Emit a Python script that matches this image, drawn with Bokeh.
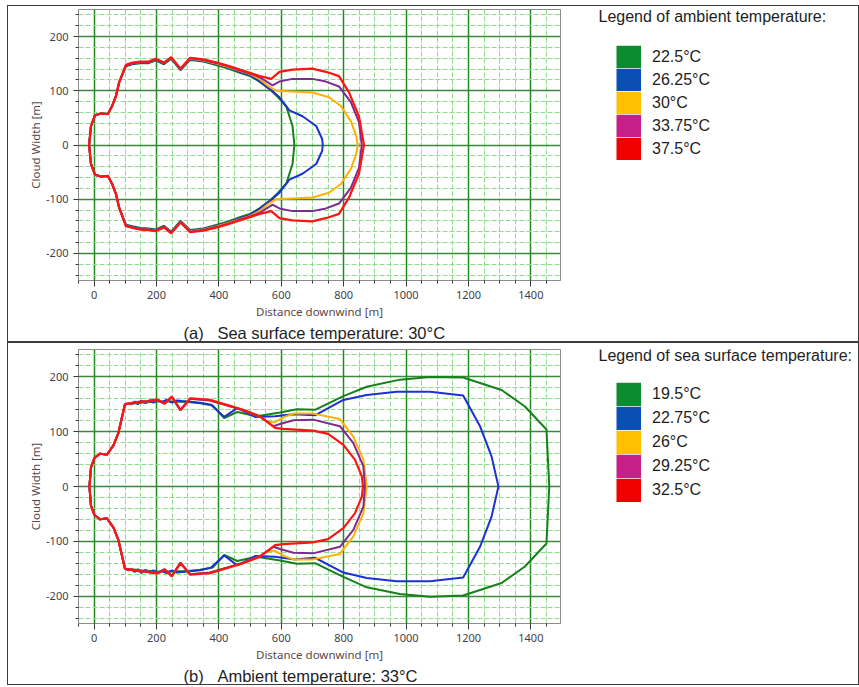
from bokeh.plotting import figure
from bokeh.models import (Range1d, SingleIntervalTicker, Legend, LegendItem, Label, Title,
                          PrintfTickFormatter)
from bokeh.layouts import column, row
from bokeh.embed import file_html
from bokeh.resources import INLINE

# ---------------- data ----------------
X_MIN, X_MAX = -50, 1495
Y_MIN, Y_MAX = -250, 250

A_LABELS = ["22.5°C", "26.25°C", "30°C", "33.75°C", "37.5°C"]
B_LABELS = ["19.5°C", "22.75°C", "26°C", "29.25°C", "32.5°C"]
A_LEGEND_TITLE = "Legend of ambient temperature:"
B_LEGEND_TITLE = "Legend of sea surface temperature:"
A_CAPTION = "(a)\u00a0\u00a0\u00a0Sea surface temperature: 30°C"
B_CAPTION = "(b)\u00a0\u00a0\u00a0Ambient temperature: 33°C"
X_LABEL = "Distance downwind [m]"
Y_LABEL = "Cloud Width [m]"

# Panel (a): sea surface temperature 30°C, series = ambient temperature
A_grn_x = [-16, -10, 3, 22, 44, 57, 70, 80, 102, 123, 149, 175, 197, 224, 247, 277, 308, 350, 394, 430, 467, 500, 530, 560, 590, 616, 636, 642]
A_grn_up = [0, 35, 55, 58, 57, 71, 90, 115, 145, 149, 151, 151, 156, 149, 159, 138, 157, 154, 147, 141, 133, 127, 117, 104, 88, 71, 35, 0]
A_grn_lo = [0, -35, -55, -58, -57, -71, -90, -115, -147, -150, -153, -154, -156, -149, -160, -140, -157, -154, -147, -141, -133, -127, -117, -104, -88, -71, -35, 0]

A_blu_x = [-16, -10, 3, 22, 44, 57, 70, 80, 102, 123, 149, 175, 197, 224, 247, 277, 308, 350, 394, 430, 467, 500, 530, 560, 594, 626, 668, 712, 731, 733]
A_blu_up = [0, 35, 55, 58, 57, 71, 90, 115, 146, 150, 152, 152, 157, 150, 160, 139, 158, 155, 149, 143, 135, 129, 118, 105, 88, 64, 53, 35, 11, 0]
A_blu_lo = [0, -35, -55, -58, -57, -71, -90, -115, -148, -151, -154, -155, -157, -150, -161, -141, -158, -155, -149, -143, -135, -129, -118, -105, -88, -64, -53, -35, -11, 0]

A_ora_x = [-16, -10, 3, 22, 44, 57, 70, 80, 102, 123, 149, 175, 197, 224, 247, 277, 308, 350, 394, 430, 467, 500, 530, 560, 584, 620, 700, 753, 791, 823, 840, 845]
A_ora_up = [0, 35, 55, 58, 57, 71, 90, 115, 147, 151, 153, 153, 158, 151, 161, 140, 159, 156, 150, 144, 137, 131, 122, 108, 100, 99, 97, 88, 72, 44, 17, 0]
A_ora_lo = [0, -35, -55, -58, -57, -71, -90, -115, -149, -152, -155, -156, -158, -151, -162, -142, -159, -156, -150, -144, -137, -131, -122, -108, -100, -99, -97, -88, -72, -44, -17, 0]

A_pur_x = [-16, -10, 3, 22, 44, 57, 70, 80, 102, 123, 149, 175, 197, 224, 247, 277, 308, 350, 394, 430, 467, 500, 531, 572, 594, 636, 700, 743, 785, 823, 849, 858]
A_pur_up = [0, 35, 55, 58, 57, 71, 90, 115, 147, 151, 153, 153, 158, 151, 161, 140, 160, 157, 151, 145, 138, 132, 125, 110, 117, 122, 122, 117, 108, 79, 42, 0]
A_pur_lo = [0, -35, -55, -58, -57, -71, -90, -115, -149, -152, -155, -156, -158, -151, -162, -142, -160, -157, -151, -145, -138, -132, -125, -110, -117, -122, -122, -117, -108, -79, -42, 0]

A_red_x = [-16, -10, 3, 22, 44, 57, 70, 80, 102, 123, 149, 175, 197, 224, 247, 277, 308, 350, 394, 430, 467, 500, 531, 568, 594, 636, 699, 743, 785, 817, 849, 865]
A_red_up = [0, 35, 55, 58, 57, 71, 90, 115, 148, 152, 154, 154, 159, 152, 162, 141, 161, 158, 152, 146, 139, 133, 127, 122, 135, 139, 141, 135, 127, 97, 53, 0]
A_red_lo = [0, -35, -55, -58, -57, -71, -90, -115, -150, -153, -156, -157, -159, -152, -163, -143, -161, -158, -152, -146, -139, -133, -127, -122, -135, -139, -141, -135, -127, -97, -53, 0]

# Panel (b): ambient temperature 33°C, series = sea surface temperature
B_grn_x = [-15, -10, 1, 19, 41, 62, 78, 99, 150, 200, 250, 300, 340, 380, 417, 459, 521, 596, 650, 708, 799, 874, 980, 1077, 1183, 1306, 1381, 1450, 1459]
B_grn_up = [0, 35, 52, 60, 58, 75, 98, 150, 153, 155, 155, 154, 152, 148, 125, 136, 128, 135, 141, 140, 165, 182, 195, 200, 199, 176, 146, 104, 0]
B_grn_lo = [0, -35, -52, -60, -58, -75, -98, -150, -153, -155, -155, -154, -152, -148, -125, -136, -128, -135, -141, -140, -165, -184, -196, -201, -199, -176, -146, -104, 0]

B_blu_x = [-15, -10, 1, 19, 41, 62, 78, 99, 110, 120, 130, 140, 152, 165, 178, 190, 205, 218, 232, 250, 265, 282, 300, 340, 375, 417, 459, 516, 580, 640, 708, 799, 874, 970, 1077, 1183, 1237, 1274, 1296]
B_blu_up = [0, 35, 52, 60, 58, 75, 98, 150, 152, 150, 155, 150, 157, 152, 157, 153, 158, 154, 158, 153, 157, 156, 155, 153, 149, 127, 143, 127, 128, 132, 130, 158, 167, 173, 173, 166, 110, 55, 0]
B_blu_lo = [0, -35, -52, -60, -58, -75, -98, -150, -153, -151, -156, -151, -158, -152, -157, -153, -158, -154, -158, -153, -157, -156, -155, -153, -148, -126, -144, -127, -128, -133, -130, -157, -167, -173, -173, -166, -110, -55, 0]

B_ora_x = [-15, -10, 1, 19, 41, 62, 78, 99, 126, 147, 169, 201, 226, 249, 277, 308, 372, 425, 478, 532, 553, 578, 610, 639, 702, 788, 831, 863, 874]
B_ora_up = [0, 35, 52, 60, 58, 75, 98, 150, 152, 154, 155, 158, 151, 163, 139, 160, 157, 148, 139, 127, 119, 117, 127, 133, 133, 123, 91, 49, 0]
B_ora_lo = [0, -35, -52, -60, -58, -75, -98, -150, -152, -154, -155, -158, -151, -163, -139, -160, -157, -148, -139, -127, -119, -117, -127, -133, -133, -123, -91, -49, 0]

B_pur_x = [-15, -10, 1, 19, 41, 62, 78, 99, 126, 147, 169, 201, 226, 249, 277, 308, 372, 425, 478, 532, 575, 596, 639, 702, 788, 831, 863, 868]
B_pur_up = [0, 35, 52, 60, 58, 75, 98, 150, 152, 154, 155, 158, 151, 163, 139, 160, 157, 148, 139, 127, 110, 114, 121, 122, 110, 79, 37, 0]
B_pur_lo = [0, -35, -52, -60, -58, -75, -98, -150, -152, -154, -155, -158, -151, -163, -139, -160, -157, -148, -139, -127, -110, -114, -121, -122, -110, -79, -37, 0]

B_red_x = [-15, -10, 1, 19, 41, 62, 78, 99, 126, 147, 169, 201, 226, 249, 277, 308, 372, 425, 478, 532, 580, 606, 702, 750, 799, 836, 858, 862]
B_red_up = [0, 35, 52, 60, 58, 75, 98, 150, 153, 155, 156, 159, 152, 164, 140, 161, 158, 149, 140, 128, 107, 105, 102, 96, 76, 49, 19, 0]
B_red_lo = [0, -35, -52, -60, -58, -75, -98, -150, -153, -155, -156, -159, -152, -164, -140, -161, -158, -149, -140, -128, -107, -105, -102, -96, -76, -49, -19, 0]

# ---------------- styling ----------------
LINE_COLORS = ["#17801c", "#1f2fd6", "#ffb000", "#7f2a8e", "#ff1414"]
SWATCH_COLORS = ["#0b8c2e", "#0a50b4", "#ffc000", "#c61f88", "#f00000"]
TEXT_FONT = "Liberation Sans"
AXIS_FONT = "Noto Sans"
PLOT_W = 560
LEG_W = 290


def make_plot(xs, ups, los, caption, height, top, bottom):
    p = figure(width=PLOT_W, height=height,
               x_range=Range1d(X_MIN, X_MAX), y_range=Range1d(Y_MIN, Y_MAX),
               output_backend="svg", toolbar_location=None,
               min_border_left=70, min_border_right=8,
               min_border_top=top, min_border_bottom=bottom,
               x_axis_label=X_LABEL, y_axis_label=Y_LABEL)
    p.background_fill_color = "white"
    p.border_fill_color = "white"
    p.outline_line_color = "#8c8c8c"
    p.outline_line_width = 1

    p.xaxis.ticker = SingleIntervalTicker(interval=200, num_minor_ticks=4)
    p.yaxis.ticker = SingleIntervalTicker(interval=100, num_minor_ticks=5)
    p.xaxis.formatter = PrintfTickFormatter(format="%d")
    p.yaxis.formatter = PrintfTickFormatter(format="%d")

    for ax in (p.xaxis[0], p.yaxis[0]):
        ax.axis_line_color = "#8c8c8c"
        ax.major_tick_line_color = "#3a3a3a"
        ax.minor_tick_line_color = "#3a3a3a"
        ax.major_tick_in = 0
        ax.minor_tick_in = 0
        ax.major_label_text_font = AXIS_FONT
        ax.major_label_text_font_size = "11px"
        ax.major_label_text_color = "#3f3f4c"
        ax.axis_label_text_font = AXIS_FONT
        ax.axis_label_text_font_size = "11.5px"
        ax.axis_label_text_font_style = "normal"
        ax.axis_label_text_color = "#5a4848"
    p.xaxis.major_tick_out = 6
    p.xaxis.minor_tick_out = 3
    p.xaxis.major_label_standoff = 4
    p.xaxis.axis_label_standoff = 2
    p.yaxis.major_tick_out = 5
    p.yaxis.minor_tick_out = 3
    p.yaxis.major_label_standoff = 5
    p.yaxis.axis_label_standoff = 0

    p.xgrid.grid_line_color = "#1e8a1e"
    p.xgrid.grid_line_width = 1.5
    p.ygrid.grid_line_color = "#3a883a"
    p.ygrid.grid_line_width = 1.5
    for g in (p.xgrid[0], p.ygrid[0]):
        g.minor_grid_line_color = "#8fdc8f"
        g.minor_grid_line_width = 1
        g.minor_grid_line_dash = "5 2"

    for i in range(5):
        cx = xs[i] + xs[i][::-1]
        cy = ups[i] + los[i][::-1]
        p.line(cx, cy, line_color=LINE_COLORS[i], line_width=2.2 if i == 4 else 2)

    p.add_layout(Title(text=caption, align="left", offset=105, standoff=0,
                       text_font=TEXT_FONT, text_font_size="16.5px",
                       text_font_style="normal", text_color="#1e1e1e"), "below")
    return p


def make_legend(xs, ups, los, labels, legend_title, height, title_y, legend_margin,
                leg_left, row_h):
    q = figure(width=LEG_W, height=height,
               x_range=Range1d(0, LEG_W - leg_left), y_range=Range1d(height, 0),
               output_backend="svg", toolbar_location=None,
               min_border_left=leg_left, min_border_right=0,
               min_border_top=0, min_border_bottom=0,
               x_axis_type=None, y_axis_type=None)
    q.grid.visible = False
    q.outline_line_color = None
    q.background_fill_color = "white"
    q.border_fill_color = "white"
    items = []
    for i in range(5):
        # hidden proxy renderer (the series itself); its wide line gives a block swatch
        cx = xs[i] + xs[i][::-1]
        cy = ups[i] + los[i][::-1]
        r = q.line(cx, cy, line_color=SWATCH_COLORS[i], line_width=row_h - 0.5,
                   line_cap="butt", visible=False)
        items.append(LegendItem(label=labels[i], renderers=[r]))
    legend = Legend(items=items, location="top_left",
                    glyph_width=25, glyph_height=row_h, spacing=0, padding=0,
                    margin=legend_margin,
                    label_standoff=11, label_text_font=TEXT_FONT,
                    label_text_font_size="16px", label_text_color="#1e1e1e",
                    border_line_color=None, background_fill_alpha=0)
    q.add_layout(legend, "center")
    q.add_layout(Label(x=30 - leg_left, y=title_y, text=legend_title, text_font=TEXT_FONT,
                       text_font_size="16px", text_color="#1e1e1e",
                       text_baseline="middle", text_align="left"))
    return q


A_xs = [A_grn_x, A_blu_x, A_ora_x, A_pur_x, A_red_x]
A_ups = [A_grn_up, A_blu_up, A_ora_up, A_pur_up, A_red_up]
A_los = [A_grn_lo, A_blu_lo, A_ora_lo, A_pur_lo, A_red_lo]
B_xs = [B_grn_x, B_blu_x, B_ora_x, B_pur_x, B_red_x]
B_ups = [B_grn_up, B_blu_up, B_ora_up, B_pur_up, B_red_up]
B_los = [B_grn_lo, B_blu_lo, B_ora_lo, B_pur_lo, B_red_lo]

pa = make_plot(A_xs, A_ups, A_los, A_CAPTION, height=335, top=3, bottom=57)
la = make_legend(A_xs, A_ups, A_los, A_LABELS, A_LEGEND_TITLE, height=335, title_y=9,
                 legend_margin=36, leg_left=12, row_h=23)
pb = make_plot(B_xs, B_ups, B_los, B_CAPTION, height=341, top=6, bottom=59)
lb = make_legend(B_xs, B_ups, B_los, B_LABELS, B_LEGEND_TITLE, height=341, title_y=8,
                 legend_margin=33, leg_left=15, row_h=24)

box = {"border": "1px solid #3c3c3c"}
ra = row(pa, la, styles=box)
rb = row(pb, lb, styles=box)
layout = column(ra, rb, margin=(5, 0, 0, 7))
open("out.html", "w").write(file_html(layout, INLINE))
